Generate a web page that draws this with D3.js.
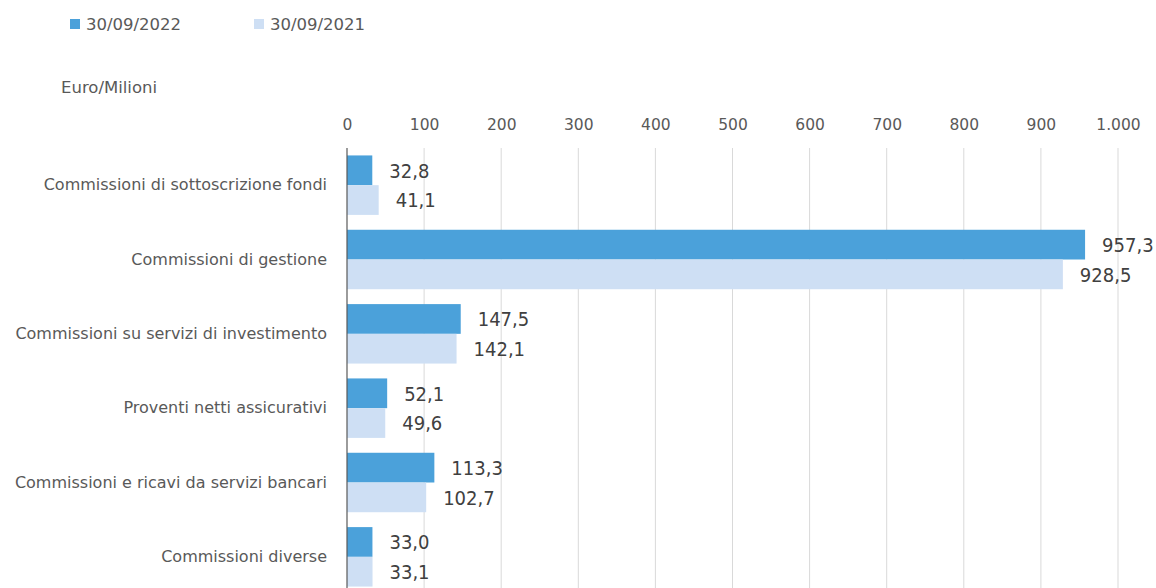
<!DOCTYPE html>
<html>
<head>
<meta charset="utf-8">
<script src="https://cdn.jsdelivr.net/npm/d3@7/dist/d3.min.js"></script>
<style>
  html, body { margin: 0; padding: 0; background: #fff; }
  svg { display: block; }
</style>
</head>
<body>
<svg id="chart" width="1156" height="588"></svg>
<script>
// Commission categories (top to bottom)
const categories = [
  "Commissioni di sottoscrizione fondi",
  "Commissioni di gestione",
  "Commissioni su servizi di investimento",
  "Proventi netti assicurativi",
  "Commissioni e ricavi da servizi bancari",
  "Commissioni diverse"
];
const seriesNames = ["30/09/2022", "30/09/2021"];
const values2022 = [32.8, 957.3, 147.5, 52.1, 113.3, 33.0];
const values2021 = [41.1, 928.5, 142.1, 49.6, 102.7, 33.1];
const tickValues = [0, 100, 200, 300, 400, 500, 600, 700, 800, 900, 1000];
const unitLabel = "Euro/Milioni";

const colors = ["#4ba1da", "#cedff4"];
const labelFont = "'DejaVu Sans', sans-serif";
const valueFont = "'DejaVu Sans Condensed', 'Liberation Sans Narrow', sans-serif";

const svg = d3.select("#chart");

const plot = { left: 347, right: 1118, top: 148, bottom: 594 };

const x = d3.scaleLinear().domain([0, 1000]).range([plot.left, plot.right]);
const y = d3.scaleBand().domain(categories).range([plot.top, plot.bottom])
  .paddingInner(0.2).paddingOuter(0.1);
const sub = d3.scaleBand().domain(seriesNames).range([0, y.bandwidth()]);

const fmt = v => d3.format(".1f")(v).replace(".", ",");
const tickFmt = v => d3.format(",")(v).replace(/,/g, ".");

// vertical gridlines
svg.append("g").selectAll("line").data(tickValues.filter(d => d > 0)).join("line")
  .attr("x1", d => x(d)).attr("x2", d => x(d))
  .attr("y1", plot.top).attr("y2", 588)
  .attr("stroke", "#d9d9d9").attr("stroke-width", 1);

// top tick labels
const xAxis = d3.axisTop(x).tickValues(tickValues).tickFormat(tickFmt).tickSize(0).tickPadding(0);
const gx = svg.append("g").attr("transform", "translate(0,130)").call(xAxis);
gx.select(".domain").remove();
gx.selectAll("text")
  .attr("font-family", labelFont).attr("font-size", 15.5).attr("fill", "#595959");

// bars
const series = [values2022, values2021];
const groups = svg.append("g").selectAll("g").data(series).join("g")
  .attr("fill", (d, i) => colors[i]);

groups.each(function(vals, si) {
  const g = d3.select(this);
  g.selectAll("rect").data(vals).join("rect")
    .attr("x", x(0))
    .attr("y", (d, i) => y(categories[i]) + sub(seriesNames[si]))
    .attr("width", d => x(d) - x(0))
    .attr("height", sub.bandwidth());
  g.selectAll("text").data(vals).join("text")
    .attr("x", d => x(d) + 17)
    .attr("y", (d, i) => y(categories[i]) + sub(seriesNames[si]) + sub.bandwidth() / 2)
    .attr("dy", "0.36em")
    .attr("font-family", valueFont).attr("font-size", 20).attr("fill", "#404040")
    .text(d => fmt(d));
});

// category axis
const yAxis = d3.axisLeft(y).tickSize(0).tickPadding(20);
const gy = svg.append("g").attr("transform", `translate(${plot.left},0)`).call(yAxis);
gy.select(".domain").attr("d", `M0,${plot.top}V588`).attr("stroke", "#595959").attr("stroke-width", 1.2);
gy.selectAll("text")
  .attr("font-family", labelFont).attr("font-size", 16).attr("fill", "#595959");

// unit label
svg.append("text").attr("x", 61).attr("y", 93)
  .attr("font-family", labelFont).attr("font-size", 16.5).attr("fill", "#595959")
  .text(unitLabel);

// legend
const legendX = [70, 254];
const legend = svg.append("g").selectAll("g").data(seriesNames).join("g")
  .attr("transform", (d, i) => `translate(${legendX[i]},19)`);
legend.append("rect").attr("width", 10).attr("height", 10).attr("fill", (d, i) => colors[i]);
legend.append("text").attr("x", 16).attr("y", 5).attr("dy", "0.36em")
  .attr("font-family", labelFont).attr("font-size", 16.5).attr("fill", "#595959")
  .text(d => d);
</script>
</body>
</html>
